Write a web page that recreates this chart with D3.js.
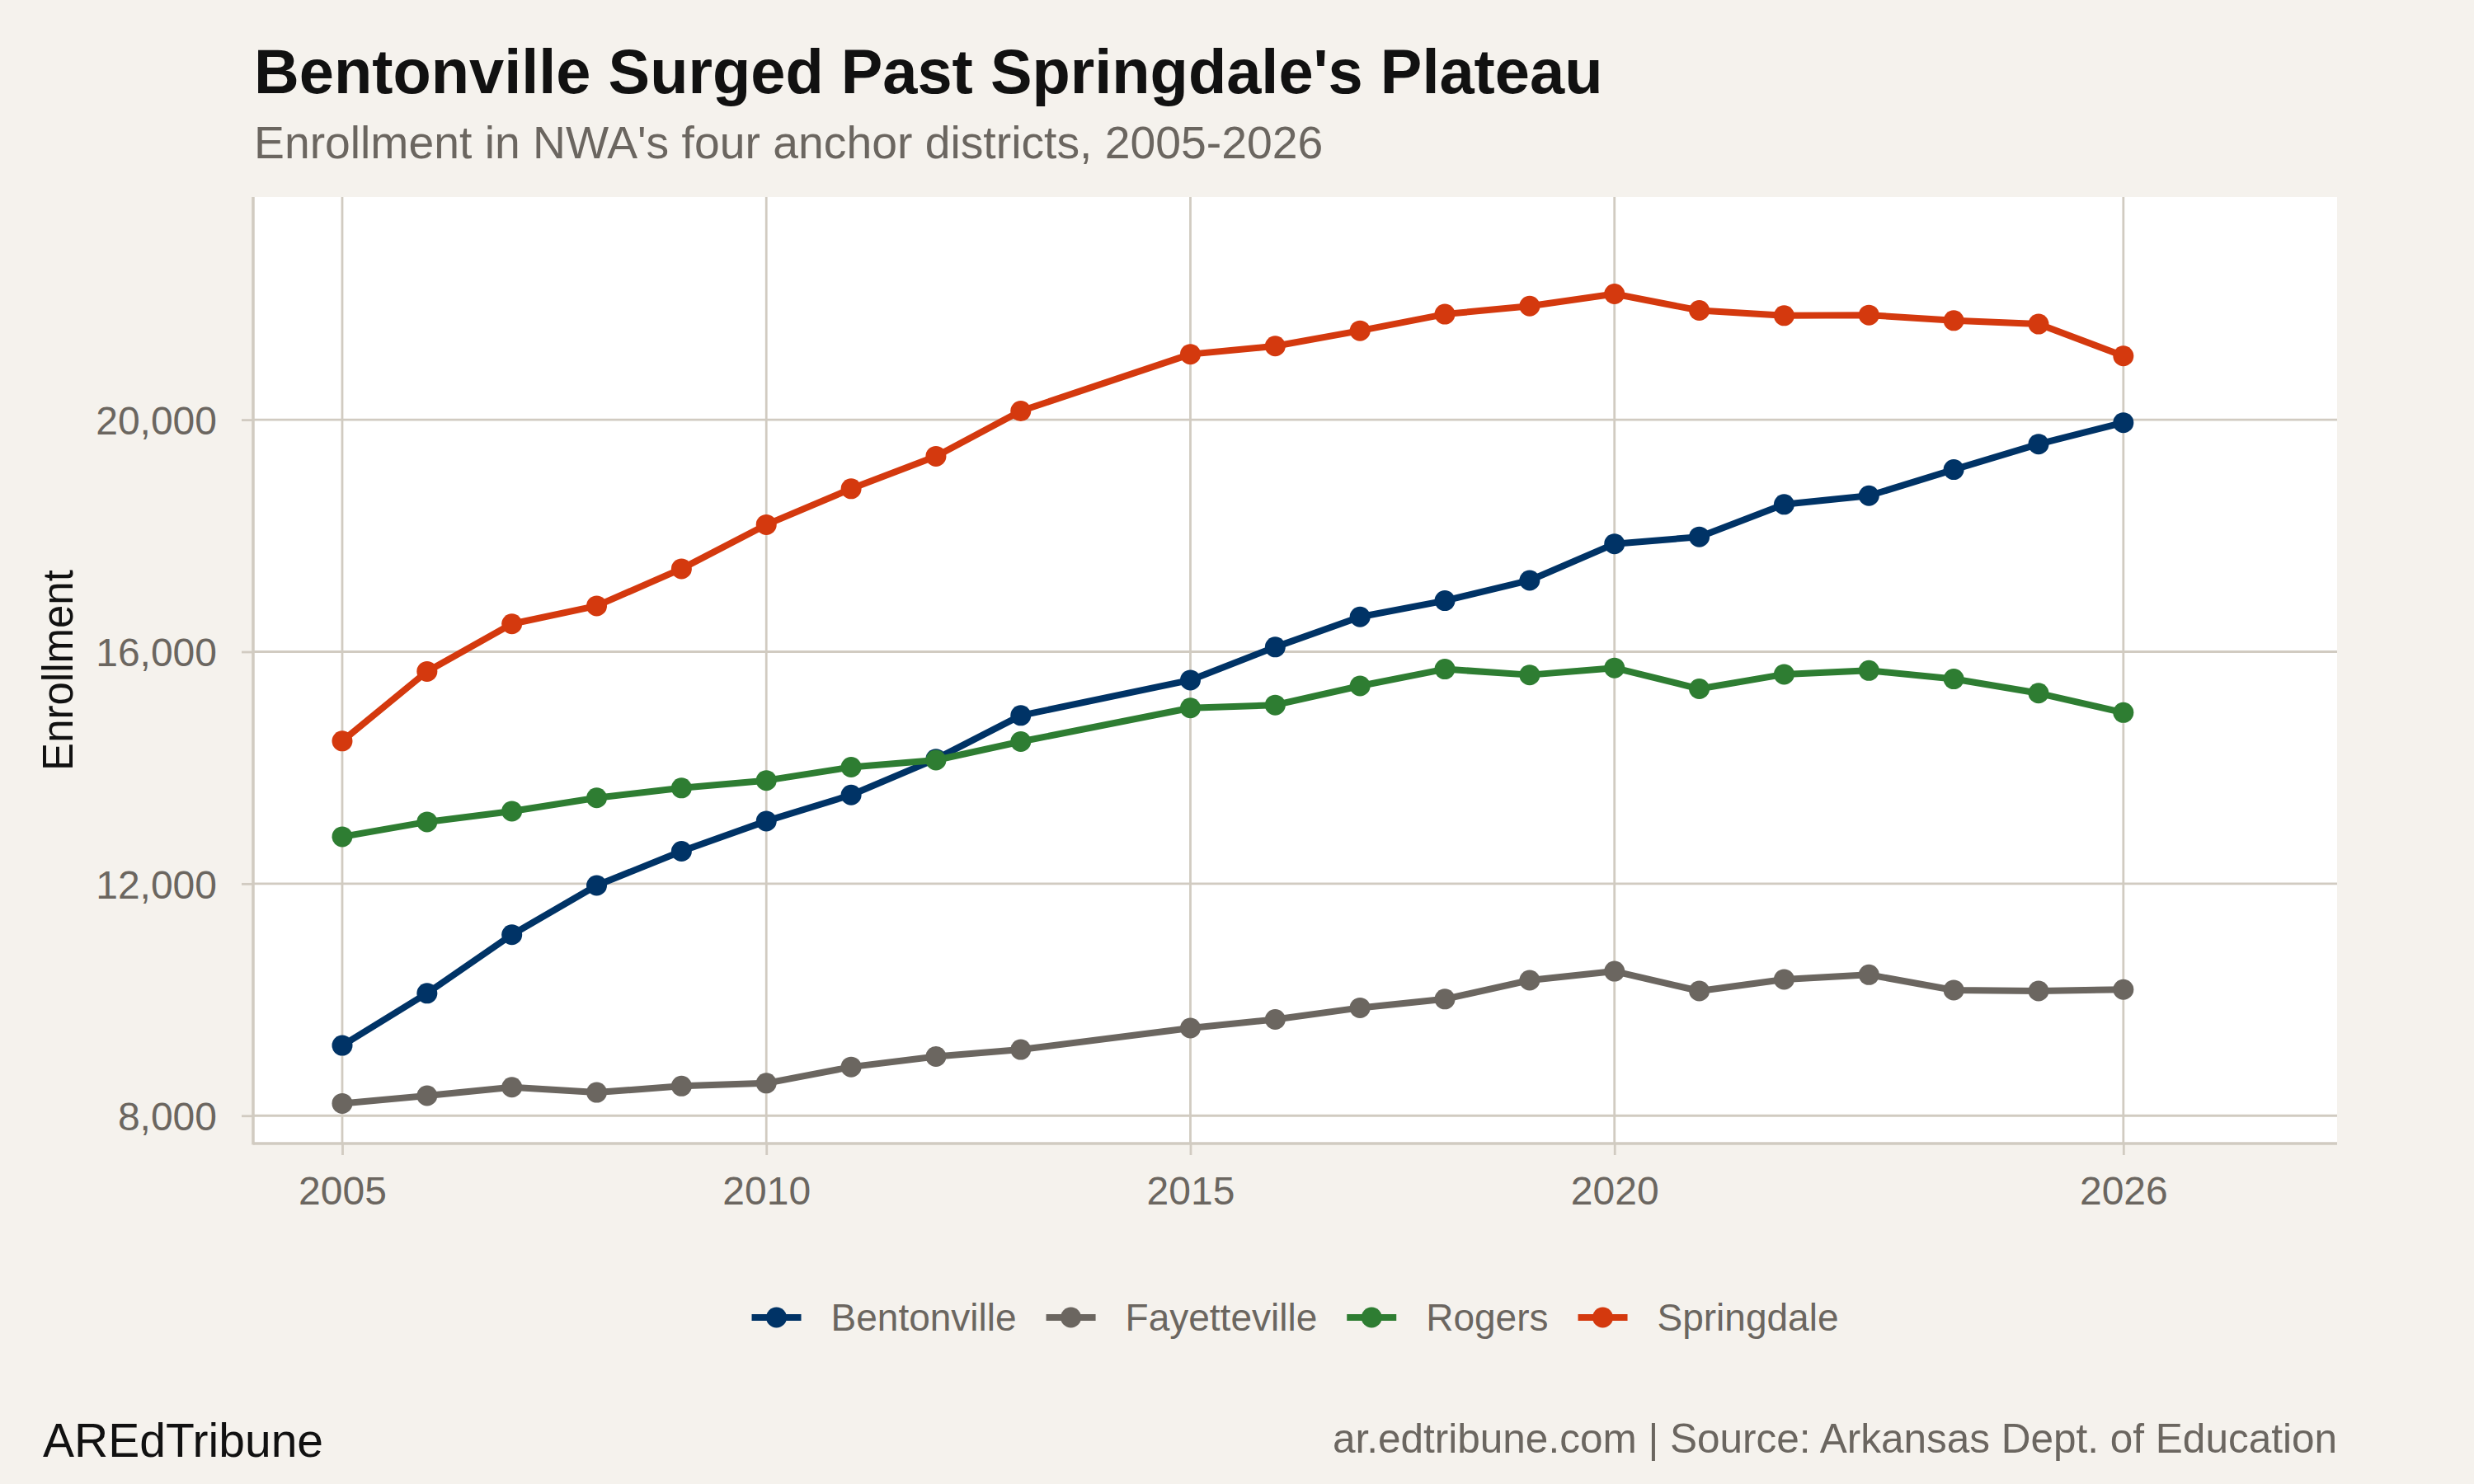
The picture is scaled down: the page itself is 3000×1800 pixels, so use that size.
<!DOCTYPE html>
<html>
<head>
<meta charset="utf-8">
<script src="https://cdn.jsdelivr.net/npm/d3@7"></script>
<style>
  body { margin: 0; background: #f5f2ed; }
  text { font-family: "Liberation Sans", Arial, Helvetica, sans-serif; }
</style>
</head>
<body>
<div id="chart"></div>
<script>
// enrollment by year (no 2014 figures)
const years = [2005, 2006, 2007, 2008, 2009, 2010, 2011, 2012, 2013, 2015, 2016,
               2017, 2018, 2019, 2020, 2021, 2022, 2023, 2024, 2025, 2026];
const districts = ["Bentonville", "Fayetteville", "Rogers", "Springdale"];
const bentonville = [9210, 10110, 11120, 11970, 12560, 13080, 13530, 14150, 14900, 15510, 16080,
                     16600, 16880, 17230, 17860, 17980, 18540, 18690, 19140, 19580, 19950];
const fayetteville = [8210, 8345, 8490, 8400, 8510, 8560, 8840, 9020, 9140, 9510, 9660,
                      9860, 10010, 10335, 10490, 10150, 10350, 10430, 10165, 10150, 10175];
const rogers = [12810, 13065, 13250, 13480, 13650, 13780, 14010, 14130, 14450, 15030, 15080,
                15410, 15700, 15600, 15720, 15360, 15610, 15675, 15530, 15285, 14950];
const springdale = [14460, 15660, 16480, 16790, 17430, 18190, 18810, 19370, 20150, 21130, 21270,
                    21535, 21820, 21960, 22170, 21885, 21795, 21805, 21710, 21650, 21100];
const xTicks = [2005, 2010, 2015, 2020, 2026];
const yTicks = [8000, 12000, 16000, 20000];

const colors = ["#003366", "#6b6660", "#2e7d32", "#d4390e"];
const seriesValues = [bentonville, fayetteville, rogers, springdale];

const W = 3000, H = 1800;
const panel = {left: 307, right: 2834, top: 239, bottom: 1387};
const gridColor = "#d1cbc1", tickColor = "#6b6660";

const svg = d3.select("#chart").append("svg")
    .attr("width", W).attr("height", H);

svg.append("rect").attr("width", W).attr("height", H).attr("fill", "#f5f2ed");
svg.append("rect")
    .attr("x", panel.left).attr("y", panel.top)
    .attr("width", panel.right - panel.left).attr("height", panel.bottom - panel.top)
    .attr("fill", "#ffffff");

let x = d3.scaleLinear().domain([2003.95, 2028.52]).range([panel.left, panel.right]);
let y = d3.scaleLinear().domain([7520, 23840]).range([panel.bottom, panel.top]);

// grid
svg.append("g").selectAll("line").data(yTicks).enter().append("line")
    .attr("x1", panel.left).attr("x2", panel.right)
    .attr("y1", d => y(d)).attr("y2", d => y(d))
    .attr("stroke", gridColor).attr("stroke-width", 2.8);
svg.append("g").selectAll("line").data(xTicks).enter().append("line")
    .attr("x1", d => x(d)).attr("x2", d => x(d))
    .attr("y1", panel.top).attr("y2", panel.bottom)
    .attr("stroke", gridColor).attr("stroke-width", 2.8);

// axes
let xAxis = d3.axisBottom(x).tickValues(xTicks).tickFormat(d3.format("d"))
    .tickSize(14).tickPadding(26);
let gx = svg.append("g").attr("transform", "translate(0," + panel.bottom + ")").call(xAxis);
let yAxis = d3.axisLeft(y).tickValues(yTicks).tickFormat(d3.format(","))
    .tickSize(14).tickPadding(30);
let gy = svg.append("g").attr("transform", "translate(" + panel.left + ",0)").call(yAxis);

[gx, gy].forEach(g => {
    g.select(".domain").remove();
    g.selectAll(".tick line").attr("stroke", gridColor).attr("stroke-width", 2.8);
    g.selectAll(".tick text")
        .attr("fill", tickColor)
        .style("font-size", "48px")
        .style("font-family", '"Liberation Sans", Arial, Helvetica, sans-serif');
});
gy.selectAll(".tick text").attr("dy", "0.36em");
gx.selectAll(".tick text").attr("dy", "0.71em");

// axis lines
svg.append("line")
    .attr("x1", panel.left).attr("x2", panel.left)
    .attr("y1", panel.top).attr("y2", panel.bottom + 1.5)
    .attr("stroke", gridColor).attr("stroke-width", 3.5);
svg.append("line")
    .attr("x1", panel.left).attr("x2", panel.right)
    .attr("y1", panel.bottom).attr("y2", panel.bottom)
    .attr("stroke", gridColor).attr("stroke-width", 3.5);

// lines and points
let line = d3.line()
    .x((d, i) => x(years[i]))
    .y(d => y(d));

seriesValues.forEach((vals, k) => {
    svg.append("path")
        .datum(vals)
        .attr("d", line)
        .attr("fill", "none")
        .attr("stroke", colors[k])
        .attr("stroke-width", 8)
        .attr("stroke-linejoin", "round");
    svg.append("g").selectAll("circle")
        .data(vals)
        .enter()
        .append("circle")
        .attr("cx", (d, i) => x(years[i]))
        .attr("cy", d => y(d))
        .attr("r", 12.5)
        .attr("fill", colors[k]);
});

// titles
svg.append("text")
    .attr("x", 308).attr("y", 113)
    .text("Bentonville Surged Past Springdale's Plateau")
    .style("font-size", "75.8px")
    .style("font-weight", "bold")
    .attr("fill", "#111111");
svg.append("text")
    .attr("x", 308).attr("y", 192)
    .text("Enrollment in NWA's four anchor districts, 2005-2026")
    .style("font-size", "55.3px")
    .attr("fill", tickColor);

// y axis title
svg.append("text")
    .attr("transform", "translate(88," + (panel.top + panel.bottom) / 2 + ") rotate(-90)")
    .attr("text-anchor", "middle")
    .text("Enrollment")
    .style("font-size", "51px")
    .attr("fill", "#111111");

// legend
let legend = svg.append("g");
let cursor = 0;
let keyW = 60, gap = 36;
districts.forEach((name, k) => {
    let item = legend.append("g").attr("transform", "translate(" + cursor + ",0)");
    item.append("line")
        .attr("x1", 0).attr("x2", keyW)
        .attr("y1", 0).attr("y2", 0)
        .attr("stroke", colors[k]).attr("stroke-width", 8);
    item.append("circle")
        .attr("cx", keyW / 2).attr("cy", 0).attr("r", 12.5)
        .attr("fill", colors[k]);
    let t = item.append("text")
        .attr("x", keyW + gap).attr("y", 16)
        .text(name)
        .style("font-size", "46px")
        .attr("fill", tickColor);
    cursor += keyW + gap + t.node().getComputedTextLength() + gap;
});
let legendW = cursor - gap;
legend.attr("transform", "translate(" + ((panel.left + panel.right) / 2 - legendW / 2) + ",1598)");

// captions
svg.append("text")
    .attr("x", 52).attr("y", 1767)
    .text("AREdTribune")
    .style("font-size", "57px")
    .attr("fill", "#111111");
svg.append("text")
    .attr("x", panel.right).attr("y", 1762)
    .attr("text-anchor", "end")
    .text("ar.edtribune.com | Source: Arkansas Dept. of Education")
    .style("font-size", "49.5px")
    .attr("fill", tickColor);
</script>
</body>
</html>
